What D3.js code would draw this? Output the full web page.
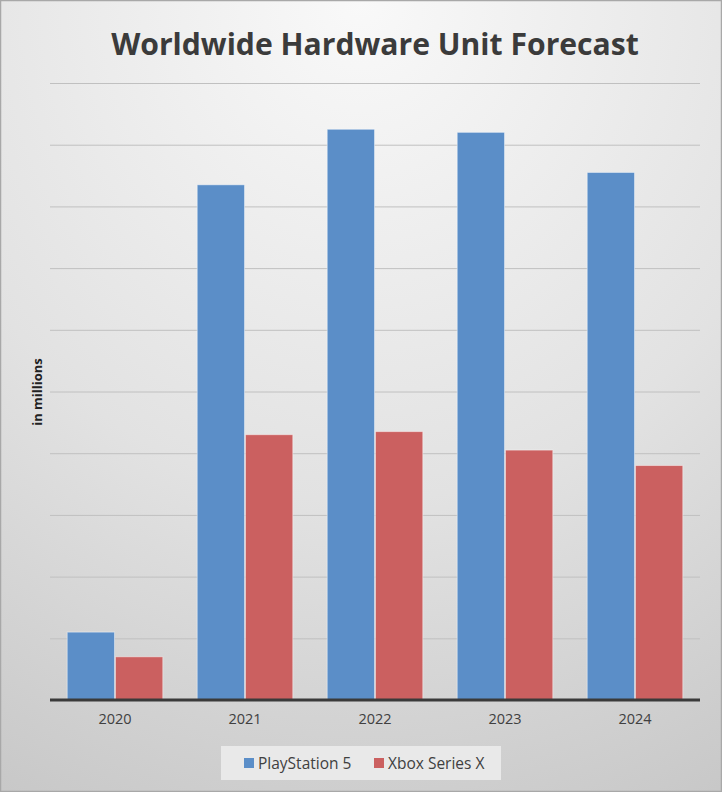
<!DOCTYPE html>
<html>
<head>
<meta charset="utf-8">
<script src="https://cdnjs.cloudflare.com/ajax/libs/d3/7.8.5/d3.min.js"></script>
<style>
  html, body { margin: 0; padding: 0; background: #ffffff; }
  svg { display: block; }
</style>
</head>
<body>
<svg id="chart" width="722" height="792"></svg>
<script>
// ---- data (millions of units) ----
const years = ["2020", "2021", "2022", "2023", "2024"];
const seriesNames = ["PlayStation 5", "Xbox Series X"];
const ps5Values = [2.2, 16.7, 18.5, 18.4, 17.1];
const xboxValues = [1.4, 8.6, 8.7, 8.1, 7.6];
const yTicks = [0, 2, 4, 6, 8, 10, 12, 14, 16, 18, 20];
const seriesColors = ["#5b8ec8", "#cb6060"];
const titleText = "Worldwide Hardware Unit Forecast";
const yAxisTitle = "in millions";

const W = 722, H = 792;
const svg = d3.select("#chart");
const defs = svg.append("defs");

// background gradient
const rg = defs.append("radialGradient").attr("id", "bg")
  .attr("cx", "50%").attr("cy", "0%").attr("r", "115%")
  .attr("fx", "50%").attr("fy", "0%");
rg.append("stop").attr("offset", "0%").attr("stop-color", "#f9f9f9");
rg.append("stop").attr("offset", "55%").attr("stop-color", "#e2e2e2");
rg.append("stop").attr("offset", "100%").attr("stop-color", "#c6c6c6");

svg.append("rect").attr("x", 0).attr("y", 0).attr("width", W).attr("height", H)
  .attr("fill", "url(#bg)");
svg.append("rect").attr("x", 0.5).attr("y", 0.5).attr("width", W - 1).attr("height", H - 1)
  .attr("fill", "none").attr("stroke", "#a8a8a8").attr("stroke-width", 1.5);

// layout
const plot = { left: 50, right: 700, top: 83, bottom: 700 };

const x0 = d3.scaleBand().domain(years).range([plot.left, plot.right]).paddingInner(0.25).paddingOuter(0.125);
const x1 = d3.scaleBand().domain(seriesNames).range([0, x0.bandwidth()]).padding(0.02);
const y = d3.scaleLinear().domain([0, 20]).range([plot.bottom, plot.top]);

// gridlines
const grid = svg.append("g")
  .attr("transform", `translate(${plot.left},0)`)
  .call(d3.axisLeft(y).tickValues(yTicks.slice(1)).tickSize(-(plot.right - plot.left)).tickFormat(""));
grid.select(".domain").remove();
grid.selectAll(".tick line").attr("stroke", "#c0c0c0").attr("stroke-width", 1);

// bars
const data = years.map((yr, i) => ({ year: yr, values: [ps5Values[i], xboxValues[i]] }));
const groups = svg.append("g").selectAll("g").data(data).join("g")
  .attr("transform", d => `translate(${x0(d.year)},0)`);
groups.selectAll("rect")
  .data(d => d.values.map((v, j) => ({ name: seriesNames[j], value: v, color: seriesColors[j] })))
  .join("rect")
  .attr("x", d => x1(d.name))
  .attr("width", x1.bandwidth())
  .attr("y", d => y(d.value))
  .attr("height", d => y(0) - y(d.value))
  .attr("fill", d => d.color)
  .attr("stroke", "rgba(255,255,255,0.45)")
  .attr("stroke-width", 1);

// x axis
const xAxis = svg.append("g")
  .attr("transform", `translate(0,${plot.bottom})`)
  .call(d3.axisBottom(x0).tickSize(0).tickPadding(14));
xAxis.select(".domain").attr("stroke", "#3a3a3a").attr("stroke-width", 3)
  .attr("d", `M${plot.left},0H${plot.right}`);
xAxis.selectAll("text")
  .attr("font-family", "'Open Sans', sans-serif")
  .attr("font-size", 14.5).attr("fill", "#404040");

// y axis title
svg.append("text")
  .attr("transform", "translate(42,392) rotate(-90)")
  .attr("text-anchor", "middle")
  .attr("font-family", "'Open Sans', sans-serif")
  .attr("font-weight", "bold").attr("font-size", 13).attr("fill", "#222")
  .text(yAxisTitle);

// title
const title = svg.append("text")
  .attr("x", 375).attr("y", 55)
  .attr("text-anchor", "middle")
  .attr("font-family", "'Open Sans', sans-serif")
  .attr("font-weight", "bold").attr("font-size", 30).attr("fill", "#3b3b3b")
  .text(titleText);
const tw = title.node().getComputedTextLength();
title.attr("font-size", 30 * 528 / tw);

// legend
const legend = svg.append("g");
legend.append("rect").attr("x", 221).attr("y", 746).attr("width", 280).attr("height", 34)
  .attr("fill", "#e9e9e9");
const legendItems = [
  { name: seriesNames[0], color: seriesColors[0], sx: 244, tx: 258 },
  { name: seriesNames[1], color: seriesColors[1], sx: 374, tx: 388 }
];
legendItems.forEach(it => {
  legend.append("rect").attr("x", it.sx).attr("y", 758).attr("width", 10).attr("height", 10)
    .attr("fill", it.color);
  legend.append("text").attr("x", it.tx).attr("y", 768.5)
    .attr("font-family", "'Open Sans', sans-serif").attr("font-size", 15.5).attr("fill", "#404040")
    .text(it.name);
});
</script>
</body>
</html>
